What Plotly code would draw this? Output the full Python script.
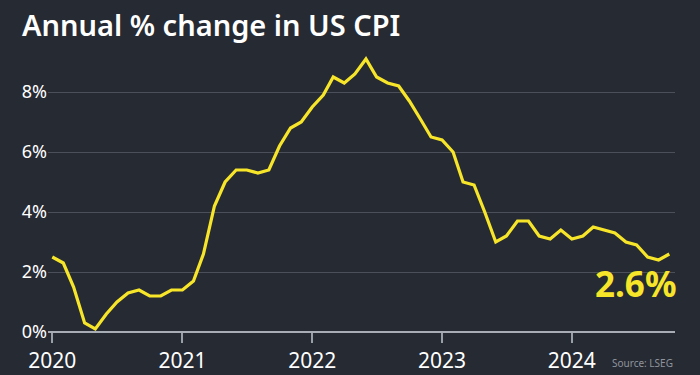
import plotly.graph_objects as go

months = [f"{y}-{m:02d}-01" for y in range(2020, 2025) for m in range(1, 13)][:58]
cpi = [2.5, 2.3, 1.5, 0.3, 0.1, 0.6, 1.0, 1.3, 1.4, 1.2, 1.2, 1.4,
       1.4, 1.7, 2.6, 4.2, 5.0, 5.4, 5.4, 5.3, 5.4, 6.2, 6.8, 7.0,
       7.5, 7.9, 8.5, 8.3, 8.6, 9.1, 8.5, 8.3, 8.2, 7.7, 7.1, 6.5,
       6.4, 6.0, 5.0, 4.9, 4.0, 3.0, 3.2, 3.7, 3.7, 3.2, 3.1, 3.4,
       3.1, 3.2, 3.5, 3.4, 3.3, 3.0, 2.9, 2.5, 2.4, 2.6]
ytick_vals = [0, 2, 4, 6, 8]
ytick_text = ["0%", "2%", "4%", "6%", "8%"]
xtick_vals = ["2020-01-01", "2021-01-01", "2022-01-01", "2023-01-01", "2024-01-01"]
xtick_text = ["2020", "2021", "2022", "2023", "2024"]

BG = "#262a33"
YEL = "#f7e52a"
FONT = "Noto Sans"

fig = go.Figure()
fig.add_trace(go.Scatter(x=months, y=cpi, mode="lines",
                         line=dict(color=YEL, width=3.2), hoverinfo="skip"))

fig.update_layout(
    width=700, height=375,
    paper_bgcolor=BG, plot_bgcolor=BG,
    margin=dict(l=48, r=25, t=53, b=43),
    showlegend=False,
    font=dict(family=FONT, color="#ffffff"),
    title=dict(text="Annual % change in US CPI", x=22/700, xanchor="left",
               y=1 - 26/375, yanchor="middle",
               font=dict(size=29, color="#ffffff", family=FONT, weight=600)),
    xaxis=dict(type="date", range=["2019-12-20", "2024-10-17"],
               tickvals=xtick_vals, ticktext=xtick_text, automargin=False,
               ticks="outside", ticklen=10, tickwidth=2, tickcolor="#9aa0a8",
               showgrid=False, zeroline=False, showline=False,
               tickfont=dict(size=21, color="#ffffff", family=FONT)),
    yaxis=dict(range=[0, 9.3], tickvals=ytick_vals, ticktext=ytick_text,
               automargin=False,
               showgrid=True, gridcolor="#4a4f59", gridwidth=1,
               zeroline=True, zerolinecolor="#a8adb5", zerolinewidth=2,
               showline=False, ticks="",
               tickfont=dict(size=18, color="#ffffff", family=FONT)),
)

fig.add_annotation(x=1, xref="paper", xanchor="right", y=cpi[-1], yref="y",
                   yshift=-29, xshift=3, text="<b>2.6%</b>", showarrow=False,
                   font=dict(size=35, color=YEL, family=FONT))
fig.add_annotation(x=1, xref="paper", xanchor="right", y=-0.11, yref="paper",
                   yanchor="middle",
                   text="Source: LSEG", showarrow=False,
                   font=dict(size=10, color="#8f949c", family=FONT))

fig.write_html("out.html", config={"displayModeBar": False},
               post_script="document.body.style.margin='0';document.body.style.background='%s';" % BG)
